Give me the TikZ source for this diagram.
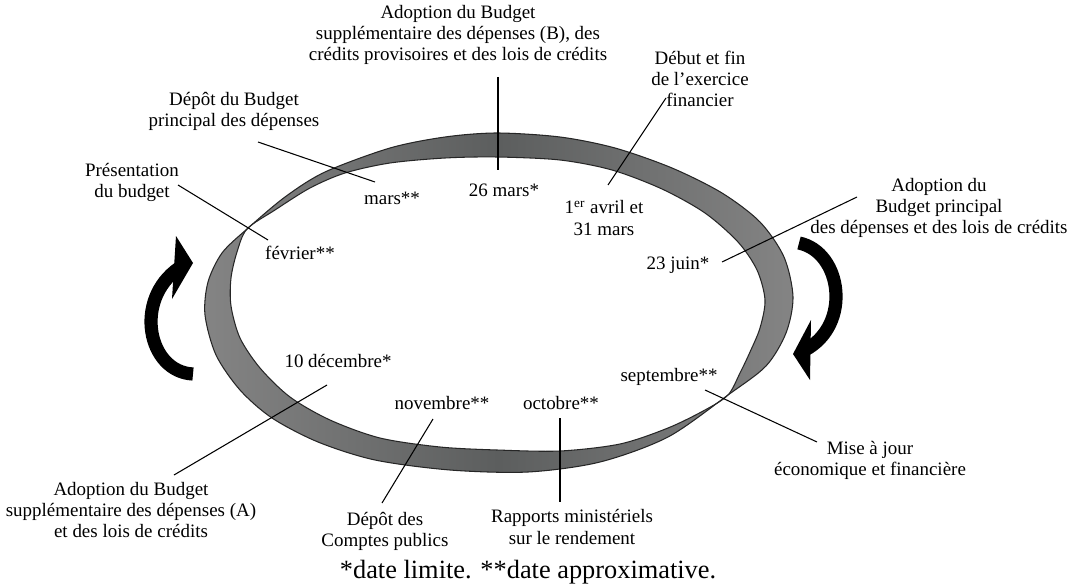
\documentclass[tikz,border=0pt]{standalone}
\usepackage{fontspec}
\setmainfont{Liberation Serif}
\definecolor{ringside}{RGB}{132,132,132}
\definecolor{ringmid}{RGB}{92,94,94}
\begin{document}
\begin{tikzpicture}[x=0.02cm,y=-0.02cm,
  lbl/.style={font=\fontsize{10.8}{12}\selectfont, align=center, inner sep=0pt},
  dt/.style={font=\fontsize{10.8}{12}\selectfont, inner sep=0pt},
  lead/.style={line width=0.6pt, black},
  rim/.style={line width=0.6pt, black!85},
  arrowbody/.style={line width=7.5pt, black},
]
\useasboundingbox (0,0) rectangle (1078,588);

% ribbon
\def\outerpts{(497,133) (560,137) (615,148) (672,168) (722,193) (760,222) (784,257) (793,297) (786,333) (766,366) (728,395) (668,437) (600,462) (528,472) (450,470) (375,460) (318,442) (272,418) (240,390) (216,355) (205,315) (208,282) (222,253) (247,229) (285,197) (325,172) (390,148) (445,137)}
\def\innerpts{(497,157) (560,160) (612,170) (662,189) (705,213) (738,242) (757,270) (765,300) (760,328) (750,352) (740,373) (728,395) (705,410) (668,428) (620,444) (560,451) (497,450) (440,447) (380,438) (330,420) (290,397) (260,368) (240,338) (231,306) (231,278) (237,252) (247,229) (275,210) (310,188) (345,173) (390,163) (445,158)}
\shade[left color=ringside, right color=ringside, middle color=ringmid] plot[smooth cycle] coordinates {\outerpts};
\fill[white] plot[smooth cycle] coordinates {\innerpts};
\draw[rim] plot[smooth cycle] coordinates {\outerpts};
\draw[rim] plot[smooth cycle] coordinates {\innerpts};

% circular arrows
\draw[arrowbody] (193,374) .. controls (148,372) and (133,300) .. (179,268);
\fill[black] (176,236) -- (193,263) -- (172,299) -- cycle;
\draw[arrowbody] (799,243) .. controls (842,252) and (852,325) .. (805,350);
\fill[black] (811,320) -- (793,354) -- (810,380) -- cycle;

% labels and dates
\node[lbl] (budB) at (458,35) {Adoption du Budget\\supplémentaire des dépenses (B), des\\crédits provisoires et des lois de crédits};
\node[dt] (mars26) at (504,190) {26 mars*};
\coordinate (budBa) at (498,77);
\coordinate (budBb) at (498,170);
\draw[lead] (budBa) -- (budBb);

\node[lbl] (debut) at (700,79) {Début et fin\\de l’exercice\\financier};
\node[lbl] (avril) at (604,218) {1\textsuperscript{er} avril et\\31 mars};
\coordinate (debuta) at (666,98);
\coordinate (debutb) at (608,185);
\draw[lead] (debuta) -- (debutb);

\node[lbl] (depot) at (234,111) {Dépôt du Budget\\principal des dépenses};
\node[dt] (mars) at (392,198) {mars**};
\coordinate (depota) at (258,142);
\coordinate (depotb) at (375,182);
\draw[lead] (depota) -- (depotb);

\node[lbl] (pres) at (132,182) {Présentation\\du budget};
\node[dt] (fev) at (300,253) {février**};
\coordinate (presa) at (178,185);
\coordinate (presb) at (268,240);
\draw[lead] (presa) -- (presb);

\node[lbl] (bprinc) at (939,208) {Adoption du\\Budget principal\\des dépenses et des lois de crédits};
\node[dt] (juin) at (678,265) {23 juin*};
\coordinate (bprinca) at (857,197);
\coordinate (bprincb) at (722,262);
\draw[lead] (bprinca) -- (bprincb);

\node[dt] (sept) at (669,377) {septembre**};
\node[lbl] (maj) at (870,460) {Mise à jour\\économique et financière};
\coordinate (maja) at (705,390);
\coordinate (majb) at (817,442);
\draw[lead] (maja) -- (majb);

\node[dt] (oct) at (561,403) {octobre**};
\node[lbl] (rapp) at (572,527) {Rapports ministériels\\sur le rendement};
\coordinate (rappa) at (560,418);
\coordinate (rappb) at (560,502);
\draw[lead] (rappa) -- (rappb);

\node[dt] (nov) at (442,403) {novembre**};
\node[lbl] (comptes) at (385,531) {Dépôt des\\Comptes publics};
\coordinate (comptesa) at (433,419);
\coordinate (comptesb) at (382,503);
\draw[lead] (comptesa) -- (comptesb);

\node[dt] (dec) at (338,361) {10 décembre*};
\node[lbl] (budA) at (131,510) {Adoption du Budget\\supplémentaire des dépenses (A)\\et des lois de crédits};
\coordinate (budAa) at (327,385);
\coordinate (budAb) at (174,475);
\draw[lead] (budAa) -- (budAb);

\node[font=\fontsize{15}{17}\selectfont, inner sep=0pt] (note) at (528,572) {*date limite. **date approximative.};
\end{tikzpicture}
\end{document}
